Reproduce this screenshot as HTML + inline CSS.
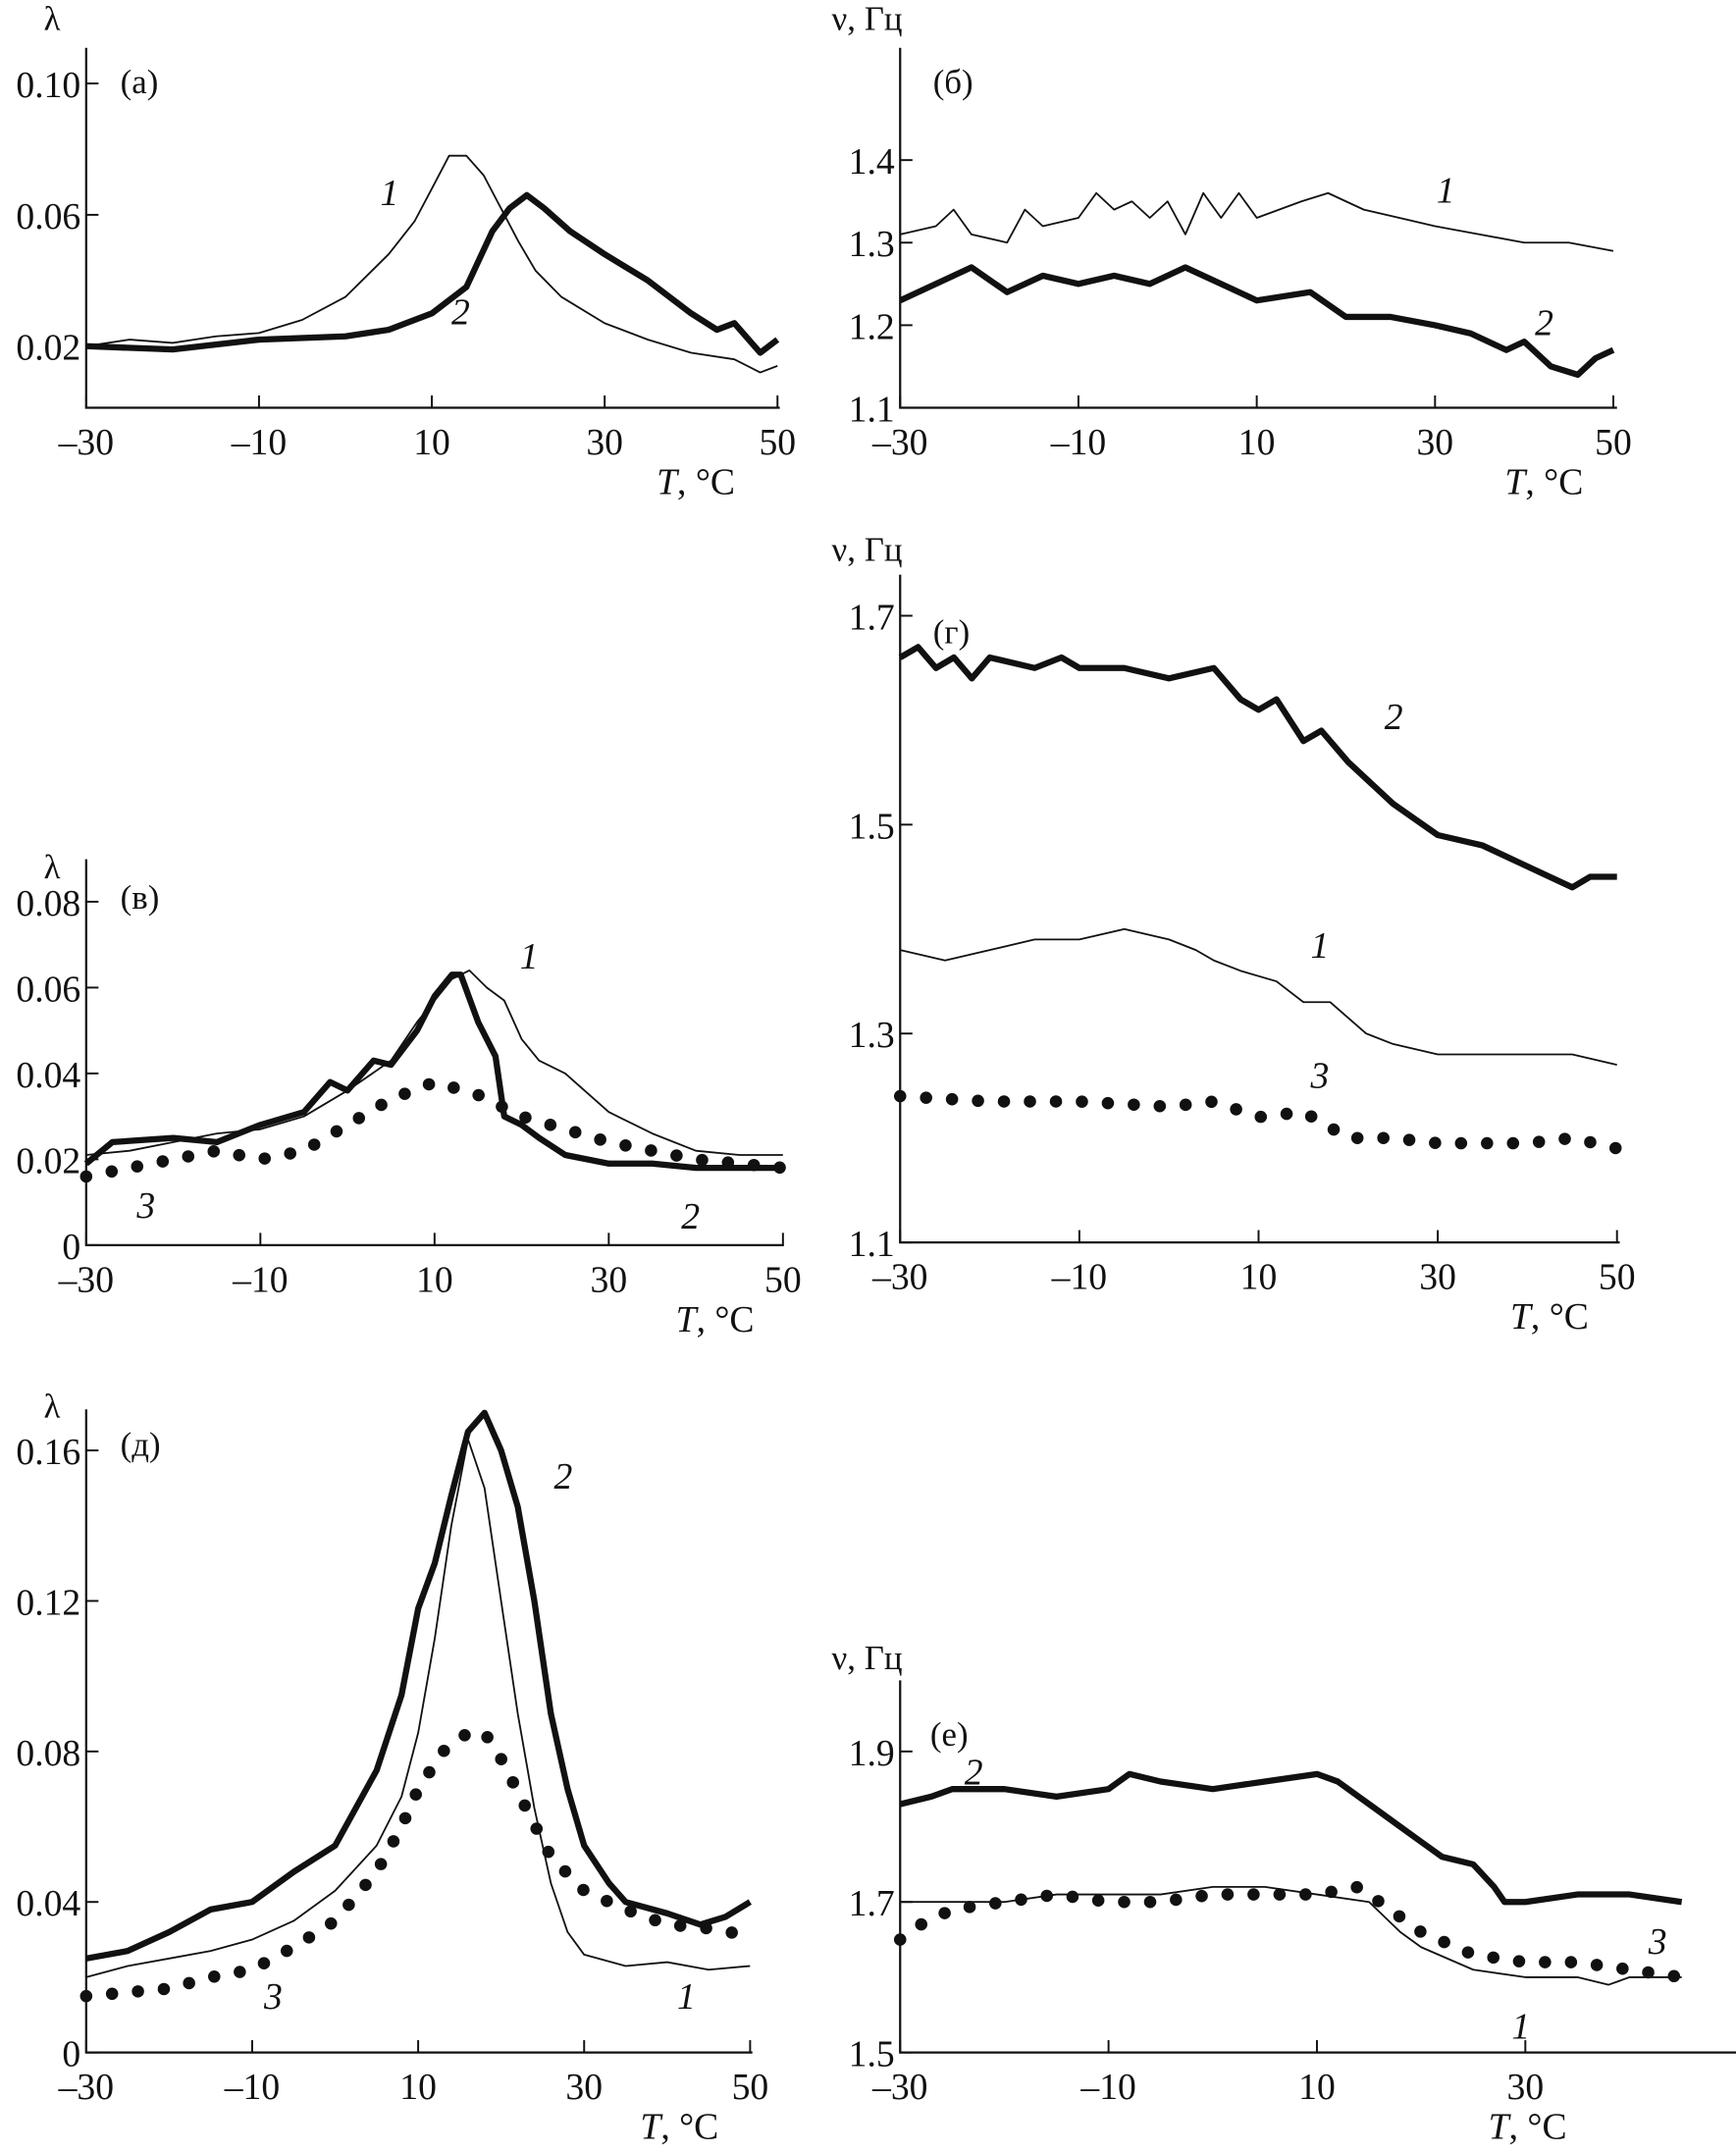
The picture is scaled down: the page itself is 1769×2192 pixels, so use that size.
<!DOCTYPE html>
<html><head><meta charset="utf-8"><style>
html,body{margin:0;padding:0;background:#fff;}
svg{display:block;}
text{font-family:"Liberation Serif","DejaVu Serif",serif;fill:#111;}
</style></head><body>
<svg id="fig" width="1769" height="2192" viewBox="0 0 1269 1572" preserveAspectRatio="none" xmlns="http://www.w3.org/2000/svg"></svg>
<script>
// ---- data (T in °C, value) ----
const a_T1=[-30,-25,-20,-15,-10,-5,0,5,8,10,12,14,16,18,20,22,25,30,35,40,45,48,50];
const a_V1=[0.020,0.022,0.021,0.023,0.024,0.028,0.035,0.048,0.058,0.068,0.078,0.078,0.072,0.062,0.052,0.043,0.035,0.027,0.022,0.018,0.016,0.012,0.014];
const a_T2=[-30,-20,-10,0,5,10,14,17,19,21,23,26,30,35,40,43,45,48,50];
const a_V2=[0.020,0.019,0.022,0.023,0.025,0.030,0.038,0.055,0.062,0.066,0.062,0.055,0.048,0.040,0.030,0.025,0.027,0.018,0.022];

const b_T1=[-30,-26,-24,-22,-18,-16,-14,-10,-8,-6,-4,-2,0,2,4,6,8,10,15,18,22,26,30,35,40,45,50];
const b_V1=[1.31,1.32,1.34,1.31,1.30,1.34,1.32,1.33,1.36,1.34,1.35,1.33,1.35,1.31,1.36,1.33,1.36,1.33,1.35,1.36,1.34,1.33,1.32,1.31,1.30,1.30,1.29];
const b_T2=[-30,-26,-22,-18,-14,-10,-6,-2,2,6,10,16,20,25,30,34,38,40,43,46,48,50];
const b_V2=[1.23,1.25,1.27,1.24,1.26,1.25,1.26,1.25,1.27,1.25,1.23,1.24,1.21,1.21,1.20,1.19,1.17,1.18,1.15,1.14,1.16,1.17];

const c_T1=[-30,-25,-20,-15,-10,-5,0,5,8,10,12,14,16,18,20,22,25,30,35,40,45,50];
const c_V1=[0.021,0.022,0.024,0.026,0.027,0.030,0.036,0.043,0.052,0.057,0.062,0.064,0.060,0.057,0.048,0.043,0.040,0.031,0.026,0.022,0.021,0.021];
const c_T2=[-30,-27,-20,-15,-10,-5,-2,0,3,5,8,10,12,13,15,17,18,20,22,25,30,35,40,50];
const c_V2=[0.019,0.024,0.025,0.024,0.028,0.031,0.038,0.036,0.043,0.042,0.050,0.058,0.063,0.063,0.052,0.044,0.030,0.028,0.025,0.021,0.019,0.019,0.018,0.018];
const c_T3=[-30,-25,-20,-15,-10,-5,0,5,10,15,20,25,30,35,40,45,50];
const c_V3=[0.016,0.018,0.020,0.022,0.020,0.022,0.028,0.034,0.038,0.035,0.030,0.027,0.024,0.022,0.020,0.019,0.018];

const d_T2=[-30,-28,-26,-24,-22,-20,-15,-12,-10,-5,0,5,8,10,12,15,17,20,25,30,35,40,45,47,50];
const d_V2=[1.66,1.67,1.65,1.66,1.64,1.66,1.65,1.66,1.65,1.65,1.64,1.65,1.62,1.61,1.62,1.58,1.59,1.56,1.52,1.49,1.48,1.46,1.44,1.45,1.45];
const d_T1=[-30,-25,-20,-15,-10,-5,0,3,5,8,12,15,18,22,25,30,35,40,45,50];
const d_V1=[1.38,1.37,1.38,1.39,1.39,1.40,1.39,1.38,1.37,1.36,1.35,1.33,1.33,1.30,1.29,1.28,1.28,1.28,1.28,1.27];
const d_T3=[-30,-20,-10,0,5,10,15,18,20,25,30,40,45,50];
const d_V3=[1.24,1.235,1.235,1.23,1.235,1.22,1.225,1.21,1.20,1.20,1.195,1.195,1.20,1.19];

const e_T1=[-30,-25,-20,-15,-10,-5,0,5,8,10,12,14,16,18,20,22,24,26,28,30,35,40,45,50];
const e_V1=[0.020,0.023,0.025,0.027,0.030,0.035,0.043,0.055,0.068,0.085,0.110,0.140,0.163,0.150,0.120,0.090,0.065,0.045,0.032,0.026,0.023,0.024,0.022,0.023];
const e_T2=[-30,-25,-20,-15,-10,-5,0,5,8,10,12,14,16,18,20,22,24,26,28,30,33,35,40,44,47,50];
const e_V2=[0.025,0.027,0.032,0.038,0.040,0.048,0.055,0.075,0.095,0.118,0.130,0.148,0.165,0.170,0.160,0.145,0.120,0.090,0.070,0.055,0.045,0.040,0.037,0.034,0.036,0.040];
const e_T3=[-30,-20,-15,-10,-5,0,5,8,10,13,16,18,20,23,26,30,35,40,45,50];
const e_V3=[0.015,0.017,0.020,0.022,0.028,0.035,0.048,0.060,0.070,0.080,0.085,0.085,0.078,0.065,0.052,0.043,0.038,0.034,0.033,0.031];

const f_T2=[-30,-27,-25,-20,-15,-10,-8,-5,0,5,10,12,15,18,20,22,25,27,28,30,35,40,45];
const f_V2=[1.83,1.84,1.85,1.85,1.84,1.85,1.87,1.86,1.85,1.86,1.87,1.86,1.83,1.80,1.78,1.76,1.75,1.72,1.70,1.70,1.71,1.71,1.70];
const f_T1=[-30,-25,-20,-15,-10,-5,0,5,10,15,18,20,25,30,35,38,40,45];
const f_V1=[1.70,1.70,1.70,1.71,1.71,1.71,1.72,1.72,1.71,1.70,1.66,1.64,1.61,1.60,1.60,1.59,1.60,1.60];
const f_T3=[-30,-28,-25,-20,-15,-10,-5,0,5,10,14,17,20,25,30,35,40,45];
const f_V3=[1.65,1.67,1.69,1.70,1.71,1.70,1.70,1.71,1.71,1.71,1.72,1.69,1.66,1.63,1.62,1.62,1.61,1.60];

const xTicks=[-30,-10,10,30,50];

// ---- drawing ----
const svg=document.getElementById('fig');
const NS='http://www.w3.org/2000/svg';
function mk(tag,attrs,parent){const e=document.createElementNS(NS,tag);for(const k in attrs)e.setAttribute(k,attrs[k]);(parent||svg).appendChild(e);return e;}
function txt(x,y,s,size,parent,anchor,italic){const t=mk('text',{x:x,y:y,'font-size':size,'text-anchor':anchor||'start'},parent);if(italic)t.setAttribute('font-style','italic');t.textContent=s;return t;}

function panel(p){
  const g=mk('g',{});
  
  
  const X=v=>p.x0+(v-(-30))*(p.x30-p.x0)/60;
  const Y=v=>p.yA+(v-p.vA)*(p.yB-p.yA)/(p.vB-p.vA);
  const ax=mk('path',{d:`M${p.x0} ${p.top} V${p.bottom} H${p.right}`,stroke:'#111','stroke-width':1.6,fill:'none'},g);
  
  
  p.xt.forEach(v=>{
    const xx=X(v);
    mk('line',{x1:xx,y1:p.bottom,x2:xx,y2:p.bottom-9,stroke:'#111','stroke-width':1.4},g);
    const t=txt(xx,p.bottom+34,v<0?'\u2013'+Math.abs(v):String(v),27,g,'middle');
    
    
  });
  p.yt.forEach((v,i)=>{
    const yy=Y(v);
    mk('line',{x1:p.x0,y1:yy,x2:p.x0+9,y2:yy,stroke:'#111','stroke-width':1.4},g);
    const t=txt(p.x0-4,yy+10,p.ytl[i],27,g,'end');
    
    
  });
  const yl=txt(p.ylx,p.yly,p.ylabel,25,g,'start');
  
  
  const xl=mk('text',{x:p.xlx,y:p.bottom+63,'font-size':27},g);
  xl.innerHTML='<tspan font-style="italic">T</tspan>, °C';
  
  
  const pl=txt(p.plx,p.ply,p.plabel,25,g);
  
  
  p.series.forEach(s=>{
    const d=s.T.map((t,i)=>(i?'L':'M')+X(t).toFixed(1)+' '+Y(s.V[i]).toFixed(1)).join(' ');
    const a={d:d,fill:'none',stroke:'#111','stroke-linejoin':'round'};
    if(s.k===1){a['stroke-width']=1.3;}
    else if(s.k===2){a['stroke-width']=4.5;}
    else {a['stroke-width']=9;a['stroke-dasharray']='0 19';a['stroke-linecap']='round';}
    const path=mk('path',a,g);
    
    
    const l=txt(s.lx,s.ly,String(s.k),27,g,'start',true);
    
    
  });
}

panel({name:'panel-a',x0:63,x30:442,right:570,top:35,bottom:298,vA:0.02,yA:253,vB:0.06,yB:157,
  xt:xTicks,yt:[0.02,0.06,0.10],ytl:['0.02','0.06','0.10'],ylabel:'λ',ylx:32,yly:22,xlx:480,plx:88,ply:68,plabel:'(a)',
  series:[{k:1,T:a_T1,V:a_V1,lx:278,ly:150},{k:2,T:a_T2,V:a_V2,lx:330,ly:237}]});
panel({name:'panel-b',x0:658,x30:1049,right:1182,top:35,bottom:298,vA:1.4,yA:117,vB:1.1,yB:298,
  xt:xTicks,yt:[1.1,1.2,1.3,1.4],ytl:['1.1','1.2','1.3','1.4'],ylabel:'ν, Гц',ylx:608,yly:22,xlx:1100,plx:682,ply:68,plabel:'(б)',
  series:[{k:1,T:b_T1,V:b_V1,lx:1050,ly:148},{k:2,T:b_T2,V:b_V2,lx:1122,ly:245}]});
panel({name:'panel-c',x0:63,x30:445,right:573,top:628,bottom:910,vA:0,yA:910,vB:0.08,yB:659,
  xt:xTicks,yt:[0,0.02,0.04,0.06,0.08],ytl:['0','0.02','0.04','0.06','0.08'],ylabel:'λ',ylx:32,yly:642,xlx:494,plx:88,ply:664,plabel:'(в)',
  series:[{k:1,T:c_T1,V:c_V1,lx:380,ly:708},{k:2,T:c_T2,V:c_V2,lx:498,ly:898},{k:3,T:c_T3,V:c_V3,lx:100,ly:890}]});
panel({name:'panel-d',x0:658,x30:1051,right:1184,top:420,bottom:908,vA:1.7,yA:450,vB:1.1,yB:908,
  xt:xTicks,yt:[1.1,1.3,1.5,1.7],ytl:['1.1','1.3','1.5','1.7'],ylabel:'ν, Гц',ylx:608,yly:410,xlx:1104,plx:682,ply:470,plabel:'(г)',
  series:[{k:2,T:d_T2,V:d_V2,lx:1012,ly:533},{k:1,T:d_T1,V:d_V1,lx:958,ly:700},{k:3,T:d_T3,V:d_V3,lx:958,ly:795}]});
panel({name:'panel-e',x0:63,x30:427,right:550,top:1030,bottom:1500,vA:0,yA:1500,vB:0.16,yB:1060,
  xt:xTicks,yt:[0,0.04,0.08,0.12,0.16],ytl:['0','0.04','0.08','0.12','0.16'],ylabel:'λ',ylx:32,yly:1036,xlx:468,plx:88,ply:1064,plabel:'(д)',
  series:[{k:1,T:e_T1,V:e_V1,lx:495,ly:1468},{k:2,T:e_T2,V:e_V2,lx:405,ly:1088},{k:3,T:e_T3,V:e_V3,lx:193,ly:1468}]});
panel({name:'panel-f',x0:658,x30:1115,right:1269,top:1228,bottom:1500,vA:1.5,yA:1500,vB:1.9,yB:1280,
  xt:[-30,-10,10,30],yt:[1.5,1.7,1.9],ytl:['1.5','1.7','1.9'],ylabel:'ν, Гц',ylx:608,yly:1220,xlx:1088,plx:680,ply:1276,plabel:'(е)',
  series:[{k:2,T:f_T2,V:f_V2,lx:705,ly:1304},{k:1,T:f_T1,V:f_V1,lx:1105,ly:1490},{k:3,T:f_T3,V:f_V3,lx:1205,ly:1428}]});
</script>
</body></html>
